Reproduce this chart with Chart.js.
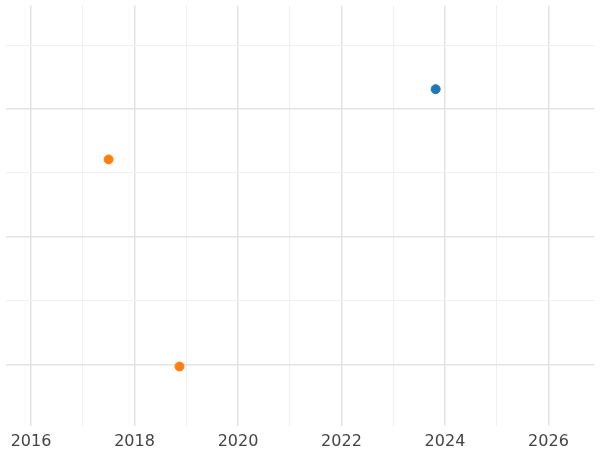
<!DOCTYPE html>
<html><head><script src="https://cdn.jsdelivr.net/npm/chart.js@4"></script>
<style>body{margin:0;background:#fff}#w{width:600px;height:450px}</style></head>
<body><div id="w"><canvas id="c"></canvas></div>
<script>
const blueX=[2023.82], blueY=[2.155];
const orangeX=[2017.50,2018.87], orangeY=[1.605,-0.016];
const xTicks=[2016,2017,2018,2019,2020,2021,2022,2023,2024,2025,2026];
const yTicks=[0,0.5,1,1.5,2,2.5];
const pts=(xs,ys)=>xs.map((x,i)=>({x:x,y:ys[i]}));
new Chart(document.getElementById('c'),{type:'scatter',
data:{datasets:[
{data:pts(blueX,blueY),backgroundColor:'#1f77b4',borderColor:'#1f77b4',pointRadius:4.5},
{data:pts(orangeX,orangeY),backgroundColor:'#ff7f0e',borderColor:'#ff7f0e',pointRadius:4.5}]},
options:{responsive:true,maintainAspectRatio:false,animation:false,layout:{padding:{left:-6,right:-6,top:-5,bottom:-7}},
plugins:{legend:{display:false},tooltip:{enabled:false}},
scales:{
x:{type:'linear',min:2015.507,max:2026.89,afterBuildTicks:a=>{a.ticks=xTicks.map(v=>({value:v}));},
 ticks:{font:{family:'DejaVu Sans',size:16},color:'#444',padding:6,maxRotation:0,autoSkip:false,callback:v=>v%2===0?String(v):''},
 grid:{color:c=>c.tick&&c.tick.value%2===0?'#e3e3e3':'#f0f0f0',lineWidth:c=>c.tick&&c.tick.value%2===0?1.5:1,drawTicks:false},border:{display:false}},
y:{type:'linear',min:-0.48,max:2.81,afterBuildTicks:a=>{a.ticks=yTicks.map(v=>({value:v}));},
 ticks:{display:false},
 grid:{color:c=>c.tick&&c.tick.value%1===0?'#e3e3e3':'#f0f0f0',lineWidth:c=>c.tick&&c.tick.value%1===0?1.5:1,drawTicks:false},border:{display:false}}
}}});
</script></body></html>
